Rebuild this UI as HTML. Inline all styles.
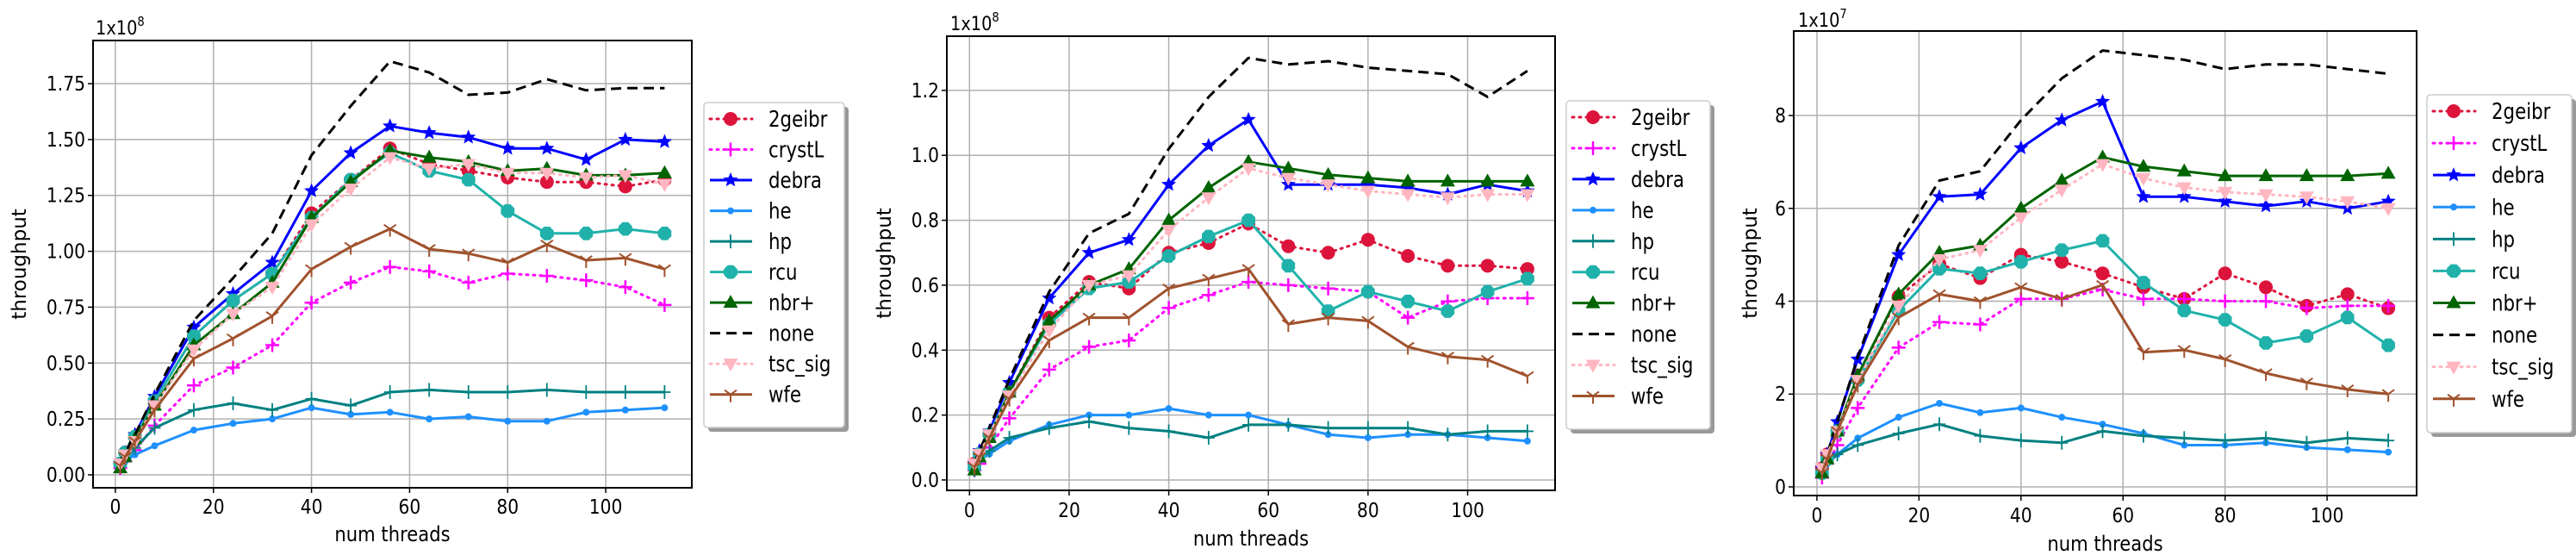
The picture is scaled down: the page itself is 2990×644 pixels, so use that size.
<!DOCTYPE html>
<html><head><meta charset="utf-8"><style>
html,body{margin:0;padding:0;background:#fff;}
svg{display:block;font-family:"DejaVu Sans","Liberation Sans",sans-serif;}
</style></head><body>
<svg id="fig" width="2990" height="644" viewBox="0 0 2990 644" xmlns="http://www.w3.org/2000/svg"></svg>
<script>
const threads = [1,2,4,8,16,24,32,40,48,56,64,72,80,88,96,104,112];
const seriesNames = ["2geibr","crystL","debra","he","hp","rcu","nbr+","none","tsc_sig","wfe"];
const xTicks = [0,20,40,60,80,100];
const c1_yTicks = [0,0.25,0.5,0.75,1.0,1.25,1.5,1.75];
const c1_yLabels = ["0.00","0.25","0.50","0.75","1.00","1.25","1.50","1.75"];
const c2_yTicks = [0,0.2,0.4,0.6,0.8,1.0,1.2];
const c2_yLabels = ["0.0","0.2","0.4","0.6","0.8","1.0","1.2"];
const c3_yTicks = [0,2,4,6,8];
const c3_yLabels = ["0","2","4","6","8"];

const c1_2geibr = [0.05,0.1,0.17,0.33,0.62,0.78,0.9,1.17,1.32,1.46,1.39,1.36,1.33,1.31,1.31,1.29,1.32];
const c1_crystL = [0.03,0.06,0.11,0.22,0.40,0.48,0.58,0.77,0.86,0.93,0.91,0.86,0.90,0.89,0.87,0.84,0.76];
const c1_debra = [0.05,0.1,0.18,0.35,0.66,0.81,0.95,1.27,1.44,1.56,1.53,1.51,1.46,1.46,1.41,1.50,1.49];
const c1_he = [0.03,0.06,0.09,0.13,0.20,0.23,0.25,0.30,0.27,0.28,0.25,0.26,0.24,0.24,0.28,0.29,0.30];
const c1_hp = [0.04,0.07,0.12,0.21,0.29,0.32,0.29,0.34,0.31,0.37,0.38,0.37,0.37,0.38,0.37,0.37,0.37];
const c1_rcu = [0.05,0.1,0.17,0.33,0.62,0.78,0.9,1.15,1.32,1.44,1.36,1.32,1.18,1.08,1.08,1.10,1.08];
const c1_nbr = [0.03,0.08,0.16,0.31,0.58,0.72,0.86,1.15,1.31,1.45,1.42,1.40,1.36,1.37,1.34,1.34,1.35];
const c1_none = [0.05,0.1,0.18,0.36,0.69,0.88,1.08,1.43,1.65,1.85,1.80,1.70,1.71,1.77,1.72,1.73,1.73];
const c1_tsc = [0.05,0.09,0.15,0.31,0.56,0.72,0.84,1.12,1.28,1.42,1.37,1.39,1.35,1.35,1.33,1.34,1.30];
const c1_wfe = [0.04,0.08,0.15,0.29,0.52,0.61,0.71,0.92,1.02,1.10,1.01,0.99,0.95,1.03,0.96,0.97,0.92];

const c2_2geibr = [0.05,0.08,0.14,0.27,0.50,0.61,0.59,0.70,0.73,0.79,0.72,0.70,0.74,0.69,0.66,0.66,0.65];
const c2_crystL = [0.03,0.05,0.10,0.19,0.34,0.41,0.43,0.53,0.57,0.61,0.60,0.59,0.58,0.50,0.55,0.56,0.56];
const c2_debra = [0.05,0.09,0.15,0.30,0.56,0.70,0.74,0.91,1.03,1.11,0.91,0.91,0.91,0.90,0.88,0.91,0.89];
const c2_he = [0.03,0.06,0.08,0.12,0.17,0.20,0.20,0.22,0.20,0.20,0.17,0.14,0.13,0.14,0.14,0.13,0.12];
const c2_hp = [0.03,0.06,0.09,0.13,0.16,0.18,0.16,0.15,0.13,0.17,0.17,0.16,0.16,0.16,0.14,0.15,0.15];
const c2_rcu = [0.04,0.08,0.14,0.27,0.48,0.59,0.61,0.69,0.75,0.80,0.66,0.52,0.58,0.55,0.52,0.58,0.62];
const c2_nbr = [0.03,0.07,0.13,0.27,0.49,0.60,0.65,0.80,0.90,0.98,0.96,0.94,0.93,0.92,0.92,0.92,0.92];
const c2_none = [0.05,0.09,0.16,0.31,0.58,0.76,0.82,1.02,1.18,1.30,1.28,1.29,1.27,1.26,1.25,1.18,1.26];
const c2_tsc = [0.05,0.08,0.14,0.26,0.46,0.60,0.63,0.77,0.87,0.96,0.93,0.91,0.89,0.88,0.87,0.88,0.88];
const c2_wfe = [0.04,0.07,0.13,0.25,0.43,0.50,0.50,0.59,0.62,0.65,0.48,0.50,0.49,0.41,0.38,0.37,0.32];

const c3_2geibr = [0.4,0.7,1.2,2.4,4.1,4.8,4.5,5.0,4.85,4.6,4.3,4.05,4.6,4.3,3.9,4.15,3.85];
const c3_crystL = [0.2,0.5,0.9,1.7,3.0,3.55,3.5,4.05,4.05,4.25,4.05,4.05,4.0,4.0,3.85,3.9,3.9];
const c3_debra = [0.4,0.7,1.4,2.75,5.0,6.25,6.3,7.3,7.9,8.3,6.25,6.25,6.15,6.05,6.15,6.0,6.15];
const c3_he = [0.3,0.5,0.7,1.05,1.5,1.8,1.6,1.7,1.5,1.35,1.15,0.9,0.9,0.95,0.85,0.8,0.75];
const c3_hp = [0.3,0.5,0.7,0.9,1.15,1.35,1.1,1.0,0.95,1.2,1.1,1.05,1.0,1.05,0.95,1.05,1.0];
const c3_rcu = [0.3,0.6,1.2,2.3,3.8,4.7,4.6,4.85,5.1,5.3,4.4,3.8,3.6,3.1,3.25,3.65,3.05];
const c3_nbr = [0.3,0.6,1.2,2.4,4.15,5.05,5.2,6.0,6.6,7.1,6.9,6.8,6.7,6.7,6.7,6.7,6.75];
const c3_none = [0.4,0.7,1.4,2.8,5.2,6.6,6.8,7.9,8.8,9.4,9.3,9.2,9.0,9.1,9.1,9.0,8.9];
const c3_tsc = [0.4,0.7,1.2,2.3,3.9,4.9,5.1,5.8,6.4,6.95,6.65,6.45,6.35,6.3,6.25,6.15,6.0];
const c3_wfe = [0.3,0.6,1.2,2.2,3.65,4.15,4.0,4.3,4.05,4.35,2.9,2.95,2.75,2.45,2.25,2.1,2.0];

const NS="http://www.w3.org/2000/svg";
const fig=document.getElementById('fig');
function mk(tag,attrs,parent){const e=document.createElementNS(NS,tag);for(const k in attrs)e.setAttribute(k,attrs[k]);(parent||fig).appendChild(e);return e;}

const styles = {
 "2geibr":{c:"#dc143c",dash:"2,6",m:"circle",cap:"round"},
 "crystL":{c:"#ff00ff",dash:"2,6",m:"plus",cap:"round"},
 "debra":{c:"#0000ff",dash:"",m:"star"},
 "he":{c:"#1e90ff",dash:"",m:"dot"},
 "hp":{c:"#008080",dash:"",m:"thinplus"},
 "rcu":{c:"#20b2aa",dash:"",m:"oct"},
 "nbr+":{c:"#006400",dash:"",m:"tri"},
 "none":{c:"#000000",dash:"12,7",m:"none"},
 "tsc_sig":{c:"#ffb6c1",dash:"2,6",m:"tridown",cap:"round"},
 "wfe":{c:"#a0522d",dash:"",m:"tri1"}
};

function marker(g,type,x,y,c){
 if(type==="circle") mk('circle',{cx:x,cy:y,r:8,fill:c},g);
 else if(type==="dot") mk('circle',{cx:x,cy:y,r:4,fill:c},g);
 else if(type==="oct"){let p=[];for(let i=0;i<8;i++){const a=Math.PI/8+i*Math.PI/4;p.push((x+8.5*Math.cos(a)).toFixed(1)+','+(y+8.5*Math.sin(a)).toFixed(1));}mk('polygon',{points:p.join(' '),fill:c},g);}
 else if(type==="tri") mk('polygon',{points:`${x},${y-9} ${x-8.5},${y+6} ${x+8.5},${y+6}`,fill:c},g);
 else if(type==="tridown") mk('polygon',{points:`${x},${y+9} ${x-8.5},${y-6} ${x+8.5},${y-6}`,fill:c},g);
 else if(type==="star"){let p=[];for(let i=0;i<10;i++){const a=-Math.PI/2+i*Math.PI/5;const r=i%2?4:9;p.push((x+r*Math.cos(a)).toFixed(1)+','+(y+r*Math.sin(a)).toFixed(1));}mk('polygon',{points:p.join(' '),fill:c},g);}
 else if(type==="plus"){mk('path',{d:`M${x-8},${y}H${x+8}M${x},${y-8}V${y+8}`,stroke:c,'stroke-width':2.5,fill:'none'},g);}
 else if(type==="thinplus"){mk('path',{d:`M${x-7},${y}H${x+7}M${x},${y-8}V${y+8}`,stroke:c,'stroke-width':1.8,fill:'none'},g);}
 else if(type==="tri1"){mk('path',{d:`M${x},${y}V${y+9}M${x},${y}L${x-7},${y-5}M${x},${y}L${x+7},${y-5}`,stroke:c,'stroke-width':2,fill:'none'},g);}
}

function txt(parent,s,x,y,size,anchor,sx){
 const t=mk('text',{x:0,y:0,'font-size':size,'text-anchor':anchor||'start',fill:'#000',transform:`translate(${x},${y}) scale(${sx||0.88},1)`},parent);
 t.textContent=s;return t;
}

const charts = [
 {id:"c1",L:108,R:803,T:47,B:566,ymin:-0.058,ymax:1.943,yt:c1_yTicks,yl:c1_yLabels,exp:"8",
  data:[c1_2geibr,c1_crystL,c1_debra,c1_he,c1_hp,c1_rcu,c1_nbr,c1_none,c1_tsc,c1_wfe],
  lg:{x:817,y:119,w:163,h:377},yl_x:22,xl_y:628,tick_y:596,mul:[111,40]},
 {id:"c2",L:1099,R:1805,T:42,B:569,ymin:-0.032,ymax:1.367,yt:c2_yTicks,yl:c2_yLabels,exp:"8",
  data:[c2_2geibr,c2_crystL,c2_debra,c2_he,c2_hp,c2_rcu,c2_nbr,c2_none,c2_tsc,c2_wfe],
  lg:{x:1818,y:117,w:167,h:381},yl_x:1026,xl_y:633,tick_y:600,mul:[1103,35]},
 {id:"c3",L:2082,R:2805,T:36,B:575,ymin:-0.186,ymax:9.82,yt:c3_yTicks,yl:c3_yLabels,exp:"7",
  data:[c3_2geibr,c3_crystL,c3_debra,c3_he,c3_hp,c3_rcu,c3_nbr,c3_none,c3_tsc,c3_wfe],
  lg:{x:2817,y:110,w:168,h:392},yl_x:2031,xl_y:639,tick_y:606,mul:[2087,31]}
];

charts.forEach(ch=>{
 const g=mk('g',{});
 
 
 const xmin=-4.55,xmax=117.55;
 const X=v=>ch.L+(v-xmin)/(xmax-xmin)*(ch.R-ch.L);
 const Y=v=>ch.B-(v-ch.ymin)/(ch.ymax-ch.ymin)*(ch.B-ch.T);
 // grid
 const grid=mk('g',{},g);
 
 
 xTicks.forEach(t=>mk('line',{x1:X(t),x2:X(t),y1:ch.T,y2:ch.B,stroke:'#b0b0b0','stroke-width':1.5},grid));
 ch.yt.forEach(t=>mk('line',{x1:ch.L,x2:ch.R,y1:Y(t),y2:Y(t),stroke:'#b0b0b0','stroke-width':1.5},grid));
 // ticks labels
 const xa=mk('g',{},g);
 
 
 xTicks.forEach(t=>{mk('line',{x1:X(t),x2:X(t),y1:ch.B,y2:ch.B+6,stroke:'#000','stroke-width':1.5},xa);txt(xa,String(t),X(t),ch.tick_y,23,'middle');});
 const ya=mk('g',{},g);
 
 
 ch.yt.forEach((t,i)=>{mk('line',{x1:ch.L-6,x2:ch.L,y1:Y(t),y2:Y(t),stroke:'#000','stroke-width':1.5},ya);txt(ya,ch.yl[i],ch.L-9,Y(t)+8,23,'end');});
 // multiplier
 const m=mk('text',{x:0,y:0,'font-size':22,transform:`translate(${ch.mul[0]},${ch.mul[1]}) scale(0.88,1)`},g);
 
 
 m.textContent='1x10';
 const sup=mk('tspan',{dy:-10,'font-size':15},m);sup.textContent=ch.exp;
 // axis titles
 const yt=mk('text',{x:0,y:0,'font-size':23,'text-anchor':'middle',transform:`translate(${ch.yl_x+8},${(ch.T+ch.B)/2}) rotate(-90)`},g);
 
 
 yt.textContent='throughput';
 const xt=txt(g,'num threads',(ch.L+ch.R)/2,ch.xl_y,24,'middle');
 
 
 // series
 seriesNames.forEach((name,si)=>{
  const st=styles[name],vals=ch.data[si];
  const sg=mk('g',{},g);
  
  
  const pts=threads.map((t,i)=>X(t).toFixed(1)+','+Y(vals[i]).toFixed(1)).join(' ');
  const pl=mk('polyline',{points:pts,fill:'none',stroke:st.c,'stroke-width':3,'stroke-linejoin':'round','stroke-linecap':st.cap||'butt'},sg);
  if(st.dash)pl.setAttribute('stroke-dasharray',st.dash);
  if(st.m!=="none")threads.forEach((t,i)=>marker(sg,st.m,X(t),Y(vals[i]),st.c));
 });
 // frame
 mk('rect',{x:ch.L,y:ch.T,width:ch.R-ch.L,height:ch.B-ch.T,fill:'none',stroke:'#000','stroke-width':2},g);
 // legend
 const lg=mk('g',{},g);
 
 
 const L=ch.lg;
 mk('rect',{x:L.x+5,y:L.y+5,width:L.w,height:L.h,rx:4,fill:'#999'},lg);
 mk('rect',{x:L.x,y:L.y,width:L.w,height:L.h,rx:4,fill:'#fff',stroke:'#ccc','stroke-width':1.5},lg);
 const step=(L.h-36)/9.6;
 seriesNames.forEach((name,i)=>{
  const st=styles[name];
  const e=mk('g',{},lg);
  
  
  const cy=L.y+19+i*step;
  const ln=mk('line',{x1:L.x+7,x2:L.x+56,y1:cy,y2:cy,stroke:st.c,'stroke-width':3,'stroke-linecap':st.cap||'butt'},e);
  if(st.dash)ln.setAttribute('stroke-dasharray',st.dash);
  if(st.m!=="none")marker(e,st.m,L.x+31,cy,st.c);
  txt(e,name,L.x+75,cy+9,26,'start',0.82);
 });
});
</script>
</body></html>
